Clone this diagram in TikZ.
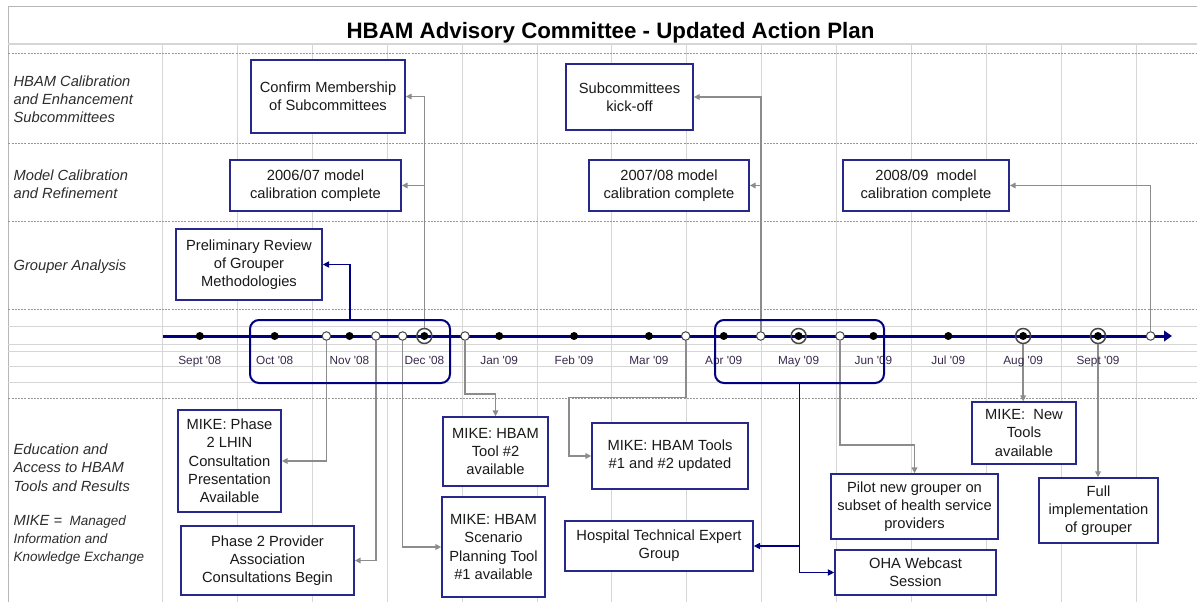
\documentclass[tikz,border=0pt]{standalone}
\usepackage{fontspec}
\setmainfont{Liberation Sans}
\newfontfamily\plainsans{Liberation Sans}
\usetikzlibrary{arrows.meta}
\pgfdeclarelayer{grid}
\pgfdeclarelayer{links}
\pgfsetlayers{grid,links,main}
\definecolor{navy}{RGB}{0,0,128}
\definecolor{boxnavy}{RGB}{40,40,140}
\definecolor{gridc}{RGB}{214,214,214}
\definecolor{dashc}{RGB}{150,150,150}
\definecolor{conn}{RGB}{140,140,140}
\definecolor{txt}{RGB}{25,25,25}
\definecolor{lbl}{RGB}{45,45,45}
\definecolor{monthc}{RGB}{55,40,75}
\definecolor{ringc}{RGB}{70,70,70}
\begin{document}
\begin{tikzpicture}[x=1pt,y=-1pt,
  evbox/.style={draw=boxnavy, line width=1.3pt, fill=white, align=center, inner sep=0pt, text=txt, font=\fontsize{14.7}{18.3}\selectfont},
  rowlbl/.style={anchor=west, align=left, inner sep=0pt, text=lbl, font=\fontsize{14.7}{18.3}\selectfont\itshape},
  mlbl/.style={anchor=base, inner sep=0pt, text=monthc, font=\plainsans\fontsize{11.8}{14}\selectfont},
  gconn/.style={draw=conn, line width=1.6pt, -{Triangle[length=6pt,width=5.5pt]}},
  nconn/.style={draw=navy, line width=1.7pt, -{Triangle[length=6.5pt,width=6pt]}},
  mdot/.style={circle, fill=black, inner sep=0pt, minimum size=8pt},
  odot/.style={circle, draw=ringc, fill=white, line width=1pt, inner sep=0pt, minimum size=8.5pt},
  ring/.style={circle, draw=ringc, line width=1.5pt, inner sep=0pt, minimum size=15pt},
  grp/.style={draw=navy, line width=2pt, rounded corners=9pt, inner sep=0pt},
  gline/.style={draw=gridc, line width=1pt},
  dline/.style={draw=dashc, line width=0.6pt, dash pattern=on 2pt off 1.2pt},
]
\useasboundingbox (0,0) rectangle (1197,602);

% ---------- grid ----------
\begin{pgfonlayer}{grid}
  \foreach \i in {0,...,13} \draw[gline] ({162.5+74.9*\i},44) -- ({162.5+74.9*\i},602);
  \draw[gline, draw=gridc!85!black] (8.4,6.5) -- (8.4,602);
  \draw[gline, draw=gridc!85!black] (8.4,6.5) -- (1197,6.5);
  \draw[draw=gridc, line width=2pt] (8.4,44) -- (1197,44);
  \foreach \y in {53,143,221,309,398} \draw[dline] (8.4,\y) -- (1197,\y);
  \foreach \y in {326,344,351,366.7,382.3} \draw[gline] (8.4,\y) -- (1197,\y);
\end{pgfonlayer}

% ---------- title ----------
\node[anchor=base, inner sep=0pt, font=\bfseries\fontsize{22.3}{26}\selectfont] (title) at (610.5,38.3) {HBAM Advisory Committee - Updated Action Plan};

% ---------- row labels ----------
\node[rowlbl] (row1) at (13.4,99.3) {HBAM Calibration\\and Enhancement\\Subcommittees};
\node[rowlbl] (row2) at (13.4,184) {Model Calibration\\and Refinement};
\node[rowlbl] (row3) at (13.4,266.7) {Grouper Analysis};
\node[rowlbl] (row4) at (13.4,467.5) {Education and\\Access to HBAM\\Tools and Results};
\node[rowlbl, font=\fontsize{13.5}{17.7}\selectfont\itshape] (row5) at (13.4,540) {{\fontsize{14.7}{17.7}\selectfont MIKE =}~ Managed\\Information and\\Knowledge Exchange};

% ---------- timeline ----------
\coordinate (tstart) at (162.5,336);
\coordinate (tend) at (1172,336);
\begin{pgfonlayer}{links}
  \draw[navy, line width=3pt, -{Triangle[length=8pt,width=10.5pt]}] (tstart) -- (tend);
\end{pgfonlayer}

% month dots and labels
\foreach \k/\t in {0/Sept '08,1/Oct '08,2/Nov '08,3/Dec '08,4/Jan '09,5/Feb '09,6/Mar '09,7/Apr '09,8/May '09,9/Jun '09,10/Jul '09,11/Aug '09,12/Sept '09}{
  \node[mdot] (m\k) at ({199.8+74.85*\k},336) {};
  \node[mlbl] (ml\k) at ({199.8+74.85*\k},364) {\t};
}
\node[ring] (rDec) at (m3) {};
\node[ring] (rMay) at (m8) {};
\node[ring] (rAug) at (m11) {};
\node[ring] (rSep) at (m12) {};

% open event circles
\node[odot] (e1) at (326.4,336) {};
\node[odot] (e2) at (375.8,336) {};
\node[odot] (e3) at (402.6,336) {};
\node[odot] (e4) at (465,336) {};
\node[odot] (e5) at (685.7,336) {};
\node[odot] (e6) at (760.7,336) {};
\node[odot] (e7) at (840,336) {};
\node[odot] (e8) at (1150.6,336) {};

% group frames
\node[grp, minimum width=200pt, minimum height=63pt] (grp1) at (350,351.5) {};
\node[grp, minimum width=169pt, minimum height=63pt] (grp2) at (799.5,351.5) {};

% ---------- event boxes ----------
\node[evbox, minimum width=154pt, minimum height=73pt] (conf) at (328,96.5) {Confirm Membership\\of Subcommittees};
\node[evbox, minimum width=127pt, minimum height=66pt] (kick) at (629.5,97) {Subcommittees\\kick-off};
\node[evbox, minimum width=171pt, minimum height=51pt] (m0607) at (315.5,185.5) {2006/07 model\\calibration complete};
\node[evbox, minimum width=160pt, minimum height=51pt] (m0708) at (669,185.5) {2007/08 model\\calibration complete};
\node[evbox, minimum width=166pt, minimum height=51pt] (m0809) at (926,185.5) {2008/09~ model\\calibration complete};
\node[evbox, minimum width=146pt, minimum height=71pt] (prelim) at (249,264.5) {Preliminary Review\\of Grouper\\Methodologies};
\node[evbox, minimum width=103pt, minimum height=102pt] (lhin) at (229.5,461) {MIKE: Phase\\2 LHIN\\Consultation\\Presentation\\Available};
\node[evbox, minimum width=173pt, minimum height=69pt] (prov) at (267.5,560.5) {Phase 2 Provider\\Association\\Consultations Begin};
\node[evbox, minimum width=105pt, minimum height=69pt] (tool2) at (495.5,451.5) {MIKE: HBAM\\Tool \#2\\available};
\node[evbox, minimum width=103pt, minimum height=100pt] (scen) at (493.5,547) {MIKE: HBAM\\Scenario\\Planning Tool\\\#1 available};
\node[evbox, minimum width=156pt, minimum height=66pt] (upd) at (670,456) {MIKE: HBAM Tools\\\#1 and \#2 updated};
\node[evbox, minimum width=188pt, minimum height=50pt] (hosp) at (659,546) {Hospital Technical Expert\\Group};
\node[evbox, minimum width=167pt, minimum height=65pt] (pilot) at (914.5,506.5) {Pilot new grouper on\\subset of health service\\providers};
\node[evbox, minimum width=161pt, minimum height=45pt] (oha) at (915.5,572.5) {OHA Webcast\\Session};
\node[evbox, minimum width=104pt, minimum height=62pt] (newt) at (1024,433) {MIKE:~ New\\Tools\\available};
\node[evbox, minimum width=119pt, minimum height=65pt] (full) at (1098.5,510.5) {Full\\implementation\\of grouper};

% ---------- connectors ----------
\coordinate (k4) at (495.5,394);
\coordinate (k5) at (569,397.5);
\coordinate (k7) at (914.5,445);
\begin{pgfonlayer}{links}
  \draw[gconn] (rDec) |- (conf.east);
  \draw[gconn] (rDec) |- (m0607.east);
  \draw[gconn] (e6) |- (kick.east);
  \draw[gconn] (e6) |- (m0708.east);
  \draw[gconn] (e8) |- (m0809.east);
  \draw[nconn] (grp1.north) |- (prelim.east);
  \draw[gconn] (e1) |- (lhin.east);
  \draw[gconn] (e2) |- (prov.east);
  \draw[gconn] (e3) |- (scen.west);
  \draw[gconn] (e4) |- (k4) -- (tool2.north);
  \draw[gconn] (e5) |- (k5) |- (upd.west);
  \draw[nconn] (grp2.south) |- (oha.west);
  \draw[nconn] (grp2.south) |- (hosp.east);
  \draw[gconn] (e7) |- (k7) -- (pilot.north);
  \draw[gconn] (rAug) -- (rAug |- newt.north);
  \draw[gconn] (rSep) -- (rSep |- full.north);
\end{pgfonlayer}
\end{tikzpicture}
\end{document}
